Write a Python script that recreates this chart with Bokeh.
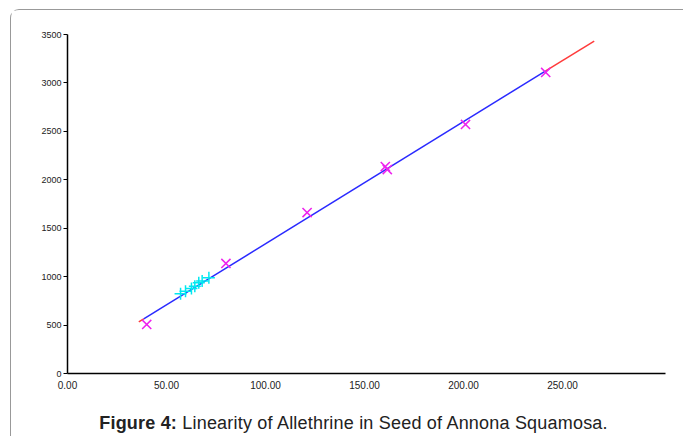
import numpy as np
from bokeh.plotting import figure
from bokeh.layouts import column
from bokeh.models import Range1d, FixedTicker, NumeralTickFormatter, Div
from bokeh.embed import file_html
from bokeh.resources import INLINE

# Standards (magenta X markers)
std_x = [40.0, 80.0, 121.0, 160.5, 161.5, 201.0, 241.5]
std_y = [506, 1136, 1662, 2137, 2106, 2571, 3108]

# Samples (cyan + markers)
smp_x = [57.1, 59.6, 62.6, 64.3, 66.3, 68.0, 71.4]
smp_y = [823, 850, 878, 902, 937, 954, 989]

# Regression extents: fitted part and extrapolated part
fit_extent = [38.5, 241.5]
extrap_extent = [36.0, 266.0]

x_ticks = [0, 50, 100, 150, 200, 250]
y_ticks = [0, 500, 1000, 1500, 2000, 2500, 3000, 3500]

caption_bold = "Figure 4:"
caption_text = "Linearity of Allethrine in Seed of Annona Squamosa."

slope, intercept = np.polyfit(std_x, std_y, 1)

FONT = "Liberation Sans"

p = figure(width=665, height=384, output_backend="svg", toolbar_location=None,
           x_range=Range1d(0, 302), y_range=Range1d(0, 3500),
           min_border_left=56, min_border_right=11, min_border_top=24, min_border_bottom=21)
p.outline_line_color = None
p.xgrid.grid_line_color = None
p.ygrid.grid_line_color = None
p.background_fill_color = "white"
p.border_fill_color = "white"

# axes
p.xaxis.ticker = FixedTicker(ticks=x_ticks)
p.xaxis.formatter = NumeralTickFormatter(format="0.00")
p.xaxis.major_tick_line_color = None
p.xaxis.minor_tick_line_color = None
p.xaxis.axis_line_width = 1.5
p.xaxis.axis_line_color = "black"
p.xaxis.major_label_text_font = FONT
p.xaxis.major_label_text_font_size = "10px"
p.xaxis.major_label_text_color = "#222222"
p.xaxis.major_label_standoff = 1

p.yaxis.ticker = FixedTicker(ticks=y_ticks)
p.yaxis.minor_tick_line_color = None
p.yaxis.major_tick_in = 0
p.yaxis.major_tick_out = 4
p.yaxis.major_tick_line_width = 1
p.yaxis.axis_line_width = 1.5
p.yaxis.axis_line_color = "black"
p.yaxis.major_label_text_font = FONT
p.yaxis.major_label_text_font_size = "9px"
p.yaxis.major_label_text_color = "#222222"
p.yaxis.major_label_standoff = 2

# regression lines: extrapolated (red) ends and fitted (blue) middle
lo = np.array([extrap_extent[0], fit_extent[0]])
hi = np.array([fit_extent[1], extrap_extent[1]])
fx = np.array(fit_extent)
for seg in (lo, hi):
    p.line(seg, slope * seg + intercept, line_color="#ff3b3b", line_width=1.5)
p.line(fx, slope * fx + intercept, line_color="#2a2aff", line_width=1.5)

# markers
p.scatter(std_x, std_y, marker="x", size=13, line_color="#ee22ee", line_width=1.5)
p.scatter(smp_x, smp_y, marker="cross", size=12, line_color="#00e8f0", line_width=1.5)

cap = Div(text=f"<b>{caption_bold}</b> {caption_text}", width=665, height=40,
          styles={"font-family": FONT, "font-size": "18px", "letter-spacing": "0.2px",
                  "color": "#222222", "text-align": "center", "line-height": "20px",
                  "padding-top": "14px", "box-sizing": "border-box", "padding-left": "10px",
                  "white-space": "nowrap"})

layout = column(p, cap, spacing=0, margin=(9, 0, 0, 10),
                styles={"border-left": "1.5px solid #999999", "border-top": "1.5px solid #999999",
                        "border-top-left-radius": "9px", "background": "white"})

open("out.html", "w").write(file_html(layout, INLINE))
